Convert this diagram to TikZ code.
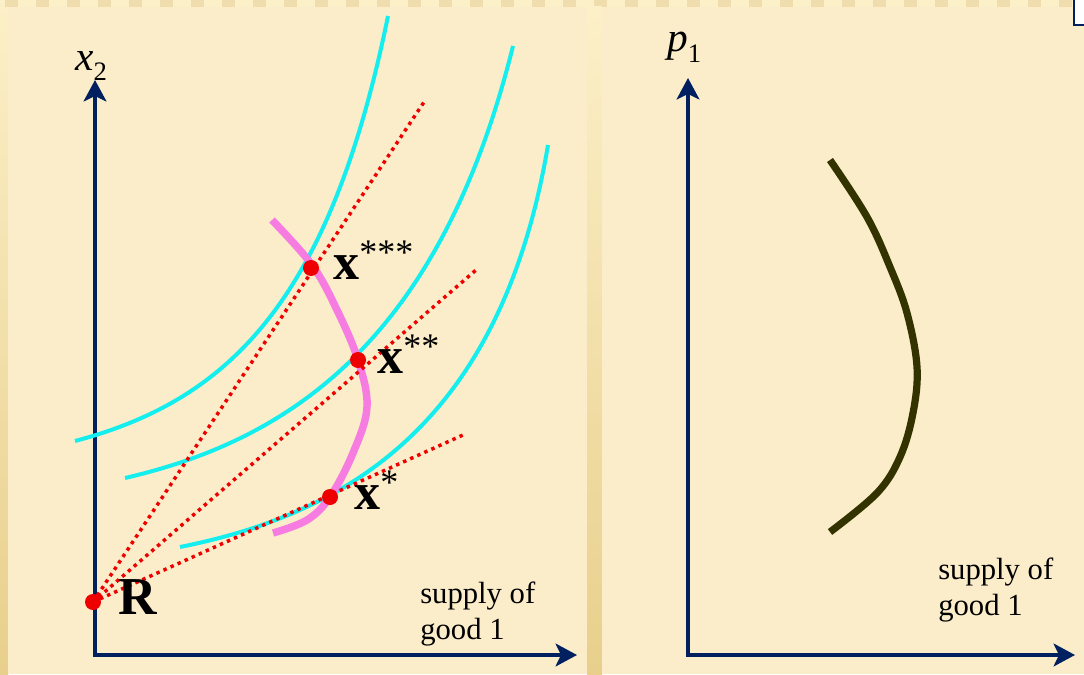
\documentclass[tikz,border=0pt]{standalone}
\usepackage{fontspec}
\setmainfont{Liberation Serif}
\usetikzlibrary{arrows.meta}
\definecolor{bgmain}{RGB}{251,237,201}
\definecolor{bgdark}{RGB}{232,207,140}
\definecolor{bglight}{RGB}{252,240,200}
\definecolor{navy}{RGB}{0,32,96}
\definecolor{icyan}{RGB}{20,238,238}
\definecolor{ired}{RGB}{238,0,0}
\definecolor{ipink}{RGB}{246,124,226}
\definecolor{olive}{RGB}{51,51,0}
\tikzset{
  axis/.style={draw=navy, line width=3.7pt, line join=miter,
    {Stealth[length=16pt,width=17pt,inset=4pt]}-{Stealth[length=16pt,width=17pt,inset=4pt]}},
  indiff/.style={draw=icyan, line width=3pt},
  ray/.style={draw=ired, line width=2.6pt, dash pattern=on 2.6pt off 3.2pt},
  offer/.style={draw=ipink, line width=5.6pt},
  supply/.style={draw=olive, line width=5.4pt},
  dot/.style={circle, fill=ired, inner sep=0pt, minimum size=12pt},
  lbl/.style={inner sep=0pt, font=\fontsize{23}{27}\selectfont, align=left},
  bx/.style={inner sep=0pt, anchor=base west}
}
\newcommand{\bx}[1]{{\fontsize{39}{40}\selectfont\bfseries x}\raisebox{11pt}{\fontsize{27}{28}\selectfont #1}}
\begin{document}
\begin{tikzpicture}[x=0.75pt,y=-0.75pt]
\useasboundingbox (0,0) rectangle (1084,674);
% background
\fill[bgmain] (0,0) rectangle (1084,674);
\shade[top color=bglight, bottom color=bgdark] (0,0) rectangle (8,674);
\foreach \i in {0,1,...,35} {
  \fill[bgdark!70] (\i*31+5,0) rectangle (\i*31+18,7);
  \fill[bglight] (\i*31+18,0) rectangle (\i*31+36,7);
}
\shade[top color=bglight, bottom color=bgdark] (587,7) rectangle (602,674);
\fill[bgmain] (8,7) rectangle (587,674);
\fill[bgmain] (602,7) rectangle (1084,674);
\draw[navy, line width=2.2pt, fill=white] (1074,-3) rectangle (1090,25);

% left axes
\coordinate (ly) at (95,80);
\coordinate (lx) at (577,655);
\draw[axis] (ly) |- (lx);
\node[inner sep=0pt, anchor=base west] (x2) at (75,70) {\fontsize{31}{32}\selectfont\itshape x\raisebox{-8pt}{\upshape\fontsize{20}{20}\selectfont 2}};
\node[lbl, anchor=north west] (sup1) at (420,582) {supply of\\good 1};

% indifference curves
\draw[indiff] (75,441) .. controls (230,400) and (330,300) .. (388,16);
\draw[indiff] (125,478) .. controls (290,440) and (440,340) .. (513,46);
\draw[indiff] (180,547) .. controls (340,515) and (500,430) .. (548,145);

% offer curve
\draw[offer] plot[smooth, tension=0.6] coordinates {(272,220) (312,265) (337,310) (358,360) (367,407) (353,453) (330,497) (307,520) (273,533)};

% rays
\node[dot] (R) at (93,602) {};
\coordinate (e1) at (424,102);
\coordinate (e2) at (476,270);
\coordinate (e3) at (463,435);
\draw[ray] (R.center) -- (e1);
\draw[ray] (R.center) -- (e2);
\draw[ray] (R.center) -- (e3);

\node[dot] (x3) at (311,268) {};
\node[dot] (x2d) at (358,360) {};
\node[dot] (x1) at (330,497) {};
\node[bx] (lx3) at (333,279) {\bx{***}};
\node[bx] (lx2) at (377,373) {\bx{**}};
\node[bx] (lx1) at (354,509) {\bx{*}};
\node[bx] (lR) at (118,614) {\fontsize{40}{40}\selectfont\bfseries R};

% right axes
\coordinate (ry) at (688,78);
\coordinate (rx) at (1075,655);
\draw[axis] (ry) |- (rx);
\node[inner sep=0pt, anchor=base west] (p1) at (667,52) {\fontsize{31}{32}\selectfont\itshape p\raisebox{-8pt}{\upshape\fontsize{20}{20}\selectfont 1}};
\node[lbl, anchor=north west] (sup2) at (938,558) {supply of\\good 1};
\draw[supply] plot[smooth, tension=0.6] coordinates {(830,160) (867,217) (890,267) (907,313) (917,367) (913,413) (900,457) (877,493) (830,532)};
\end{tikzpicture}
\end{document}
